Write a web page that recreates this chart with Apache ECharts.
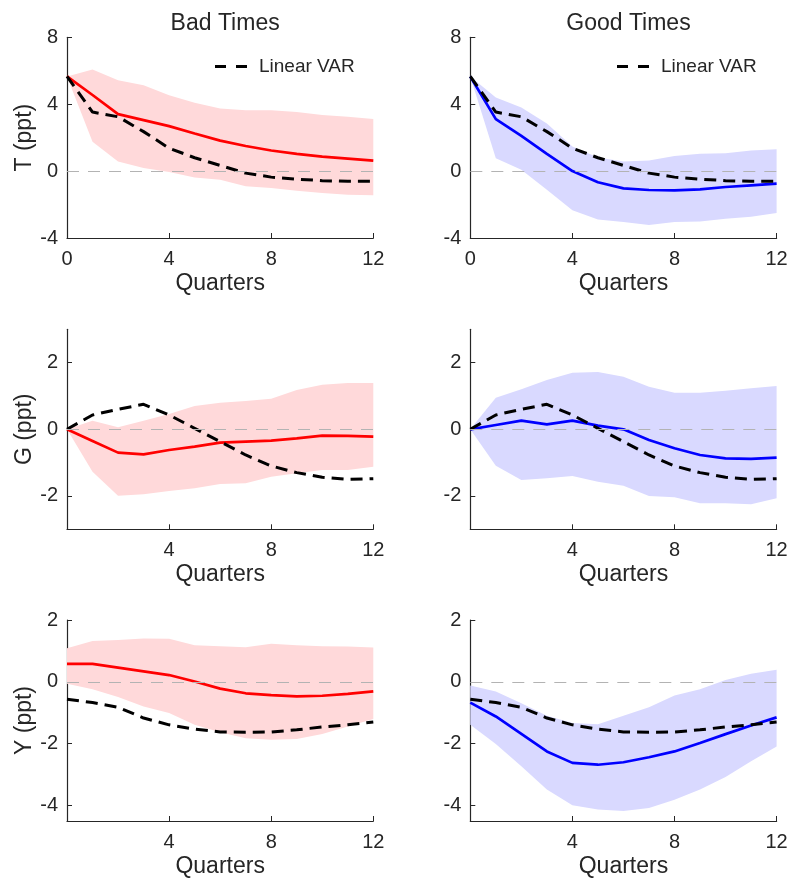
<!DOCTYPE html>
<html>
<head>
<meta charset="utf-8">
<script src="https://cdn.jsdelivr.net/npm/echarts@6/dist/echarts.min.js"></script>
<style>
html,body{margin:0;padding:0;background:#fff;}
#chart{width:792px;height:883px;}
</style>
</head>
<body>
<div id="chart"></div>
<script>
// ---- data ----
const quarters = [0,1,2,3,4,5,6,7,8,9,10,11,12];
const colTitles = ['Bad Times', 'Good Times'];
const rowNames = ['T (ppt)', 'G (ppt)', 'Y (ppt)'];
const legendName = 'Linear VAR';

// T (taxes)
const tLinear   = [5.66, 3.53, 3.25, 2.36, 1.37, 0.80, 0.34, -0.12, -0.36, -0.48, -0.57, -0.61, -0.60];
const tBad      = [5.66, 4.55, 3.41, 3.05, 2.69, 2.25, 1.82, 1.50, 1.23, 1.03, 0.87, 0.75, 0.63];
const tBadHigh  = [5.66, 6.08, 5.43, 5.13, 4.53, 4.08, 3.74, 3.64, 3.64, 3.54, 3.35, 3.25, 3.11];
const tBadLow   = [5.66, 1.76, 0.57, 0.18, -0.06, -0.38, -0.51, -0.91, -1.01, -1.17, -1.31, -1.41, -1.45];
const tGood     = [5.66, 3.11, 2.10, 1.03, 0.00, -0.67, -1.03, -1.13, -1.15, -1.09, -0.95, -0.85, -0.75];
const tGoodHigh = [5.66, 4.40, 3.80, 2.85, 1.47, 0.81, 0.57, 0.63, 0.91, 1.03, 1.07, 1.23, 1.31];
const tGoodLow  = [5.66, 0.77, 0.08, -1.11, -2.34, -2.89, -3.05, -3.23, -3.05, -3.01, -2.85, -2.73, -2.50];

// G (government spending)
const gLinear   = [0, 0.43, 0.60, 0.75, 0.43, 0.03, -0.37, -0.77, -1.10, -1.30, -1.44, -1.50, -1.48];
const gBad      = [0, -0.35, -0.70, -0.75, -0.62, -0.52, -0.40, -0.37, -0.34, -0.27, -0.19, -0.20, -0.22];
const gBadHigh  = [0, 0.26, 0.06, 0.26, 0.46, 0.70, 0.80, 0.85, 0.92, 1.18, 1.34, 1.39, 1.39];
const gBadLow   = [0, -1.27, -1.99, -1.95, -1.85, -1.77, -1.64, -1.62, -1.42, -1.32, -1.22, -1.22, -1.12];
const gGood     = [0, 0.13, 0.26, 0.15, 0.26, 0.11, 0.00, -0.32, -0.57, -0.77, -0.87, -0.89, -0.85];
const gGoodHigh = [0, 0.95, 1.20, 1.48, 1.70, 1.72, 1.58, 1.28, 1.10, 1.10, 1.16, 1.23, 1.30];
const gGoodLow  = [0, -1.09, -1.52, -1.47, -1.40, -1.57, -1.69, -2.00, -2.04, -2.22, -2.22, -2.25, -2.07];

// Y (output)
const yLinear   = [-0.56, -0.67, -0.82, -1.17, -1.39, -1.53, -1.62, -1.63, -1.62, -1.55, -1.46, -1.39, -1.30];
const yBad      = [0.58, 0.58, 0.46, 0.34, 0.22, 0.01, -0.22, -0.37, -0.43, -0.47, -0.45, -0.39, -0.31];
const yBadHigh  = [1.09, 1.32, 1.35, 1.40, 1.39, 1.18, 1.15, 1.12, 1.23, 1.18, 1.15, 1.14, 1.11];
const yBadLow   = [-0.06, -0.24, -0.49, -0.80, -1.01, -1.39, -1.63, -1.82, -1.87, -1.85, -1.69, -1.44, -1.20];
const yGood     = [-0.67, -1.12, -1.68, -2.25, -2.62, -2.68, -2.60, -2.44, -2.25, -1.98, -1.69, -1.41, -1.15];
const yGoodHigh = [-0.12, -0.31, -0.69, -1.10, -1.33, -1.37, -1.10, -0.82, -0.44, -0.24, 0.06, 0.26, 0.39];
const yGoodLow  = [-1.39, -2.01, -2.73, -3.48, -3.99, -4.13, -4.18, -4.08, -3.81, -3.48, -3.08, -2.57, -2.09];

// axis ranges and tick labels
const xTicks = [0, 4, 8, 12];
const yRanges = [[-4, 8], [-3, 3], [-4.5, 2]];
const yTickLabels = [[-4, 0, 4, 8], [-2, 0, 2], [-4, -2, 0, 2]];

// ---- layout / styles ----
const FONT = '"Liberation Sans", Arial, Helvetica, sans-serif';
const TXT = '#262626';
const colLeft = [67, 470.3];
const colWidth = 306.3;
const rowTop = [37.3, 329.3, 620];
const rowHeight = [200.7, 200, 201];
const mainColours = ['#ff0000', '#0000ff'];
const bandColours = ['#ffd9da', '#d9d9ff'];

const panels = [
  [tBad, tBadLow, tBadHigh, tLinear, tGood, tGoodLow, tGoodHigh, tLinear],
  [gBad, gBadLow, gBadHigh, gLinear, gGood, gGoodLow, gGoodHigh, gLinear],
  [yBad, yBadLow, yBadHigh, yLinear, yGood, yGoodLow, yGoodHigh, yLinear]
];

const grid = [], xAxis = [], yAxis = [], series = [];
const pairs = arr => quarters.map((q, i) => [q, arr[i]]);

for (let r = 0; r < 3; r++) {
  for (let c = 0; c < 2; c++) {
    const gi = r * 2 + c;
    const main = panels[r][c * 4], low = panels[r][c * 4 + 1], high = panels[r][c * 4 + 2], lin = panels[r][c * 4 + 3];
    grid.push({left: colLeft[c], top: rowTop[r], width: colWidth, height: rowHeight[r], containLabel: false});
    xAxis.push({
      type: 'value', gridIndex: gi, min: 0, max: 12, interval: 4,
      name: 'Quarters', nameLocation: 'middle', nameGap: 34,
      nameTextStyle: {fontFamily: FONT, fontSize: 23, color: TXT},
      axisLine: {show: true, onZero: false, lineStyle: {color: TXT, width: 1.2}},
      axisTick: {show: true, inside: true, length: 5, lineStyle: {color: TXT}},
      axisLabel: {show: true, margin: 11, fontFamily: FONT, fontSize: 20, color: TXT,
        formatter: v => (r > 0 && v === 0) ? '' : String(v)},
      splitLine: {show: false}
    });
    yAxis.push({
      type: 'value', gridIndex: gi, min: yRanges[r][0], max: yRanges[r][1],
      name: c === 0 ? rowNames[r] : '', nameLocation: 'middle', nameGap: 31,
      nameTextStyle: {fontFamily: FONT, fontSize: 23, color: TXT},
      axisLine: {show: true, onZero: false, lineStyle: {color: TXT, width: 1.2}},
      axisTick: {show: true, inside: true, length: 5, lineStyle: {color: TXT}, customValues: yTickLabels[r]},
      axisLabel: {show: true, margin: 9, fontFamily: FONT, fontSize: 20, color: TXT, customValues: yTickLabels[r]},
      splitLine: {show: false}
    });
    // confidence band: polygon through upper bounds then back through lower bounds
    series.push({
      type: 'custom', name: 'band' + gi, xAxisIndex: gi, yAxisIndex: gi, silent: true, z: 1,
      data: [[0, high[0]]],
      renderItem: (params, api) => {
        const pts = [];
        quarters.forEach((q, i) => pts.push(api.coord([q, high[i]])));
        for (let i = quarters.length - 1; i >= 0; i--) pts.push(api.coord([quarters[i], low[i]]));
        return {type: 'polygon', shape: {points: pts}, style: {fill: bandColours[c], stroke: null}};
      }
    });
    series.push({
      type: 'line', name: 'zero' + gi, xAxisIndex: gi, yAxisIndex: gi, data: [], z: 2,
      markLine: {
        silent: true, symbol: 'none', label: {show: false},
        lineStyle: {color: '#b3b3b3', type: [12, 9], width: 1.2},
        data: [{yAxis: 0}]
      }
    });
    series.push({
      type: 'line', name: 'main' + gi, xAxisIndex: gi, yAxisIndex: gi, z: 3,
      data: pairs(main), symbol: 'none',
      lineStyle: {color: mainColours[c], width: 2.7}
    });
    series.push({
      type: 'line', name: legendName, xAxisIndex: gi, yAxisIndex: gi, z: 4,
      data: pairs(lin), symbol: 'none', itemStyle: {color: '#000'},
      lineStyle: {color: '#000', width: 3, type: [12, 7]}
    });
  }
}

const chart = echarts.init(document.getElementById('chart'), null, {renderer: 'canvas'});
chart.setOption({
  animation: false,
  backgroundColor: '#fff',
  title: colTitles.map((t, c) => ({
    text: t, left: colLeft[c] + colWidth / 2, top: 7, textAlign: 'center',
    textStyle: {fontFamily: FONT, fontSize: 23, fontWeight: 'normal', color: TXT}
  })),
  legend: [0, 1].map(c => ({
    data: [{name: legendName, icon: 'path://M0,0H11V3H0Z M21,0H32V3H21Z', itemStyle: {color: '#000'}}],
    left: [215, 617][c], top: 57, orient: 'horizontal', padding: 0,
    itemWidth: 32, itemHeight: 3, selectedMode: false,
    textStyle: {fontFamily: FONT, fontSize: 19, color: TXT, padding: [0, 0, 0, 7]}
  })),
  grid, xAxis, yAxis, series
});
</script>
</body>
</html>
